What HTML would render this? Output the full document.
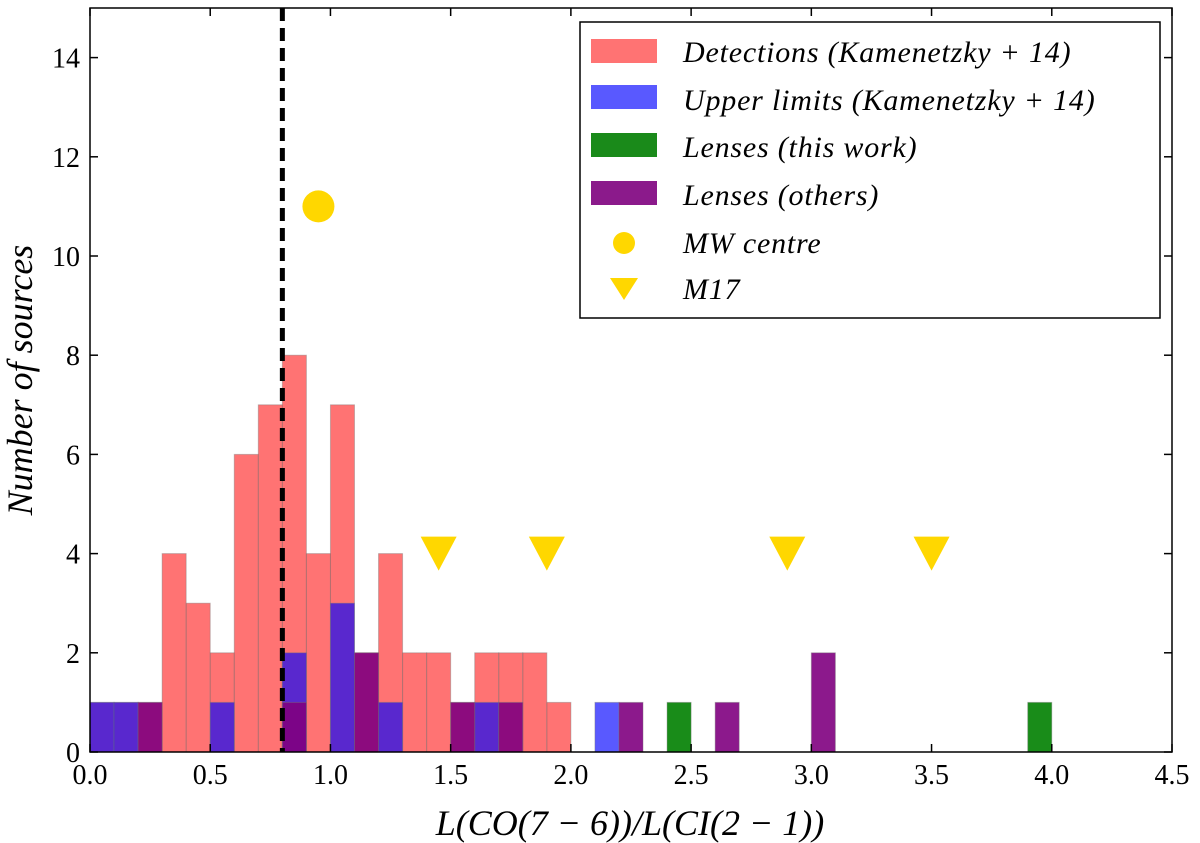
<!DOCTYPE html>
<html><head><meta charset="utf-8"><style>
body{margin:0;background:#fff;}
svg{display:block;font-family:"Liberation Serif",serif;}
</style></head><body>
<svg id="chart" width="1200" height="843">
<g id="plot"></g>
<text x="630" y="835" text-anchor="middle" font-size="36" font-style="italic">L(CO(7 − 6))/L(CI(2 − 1))</text>
<text transform="translate(32,380) rotate(-90)" text-anchor="middle" font-size="36" font-style="italic">Number of sources</text>
<g font-size="30" font-style="italic" letter-spacing="0.8">
<rect x="580" y="22" width="580" height="296" fill="#fff" stroke="#000" stroke-width="1.5"/>
<rect x="591" y="39" width="66" height="24" fill="#ff7373"/>
<text x="683" y="62">Detections (Kamenetzky + 14)</text>
<rect x="591" y="85" width="66" height="24" fill="#5959ff"/>
<text x="683" y="110">Upper limits (Kamenetzky + 14)</text>
<rect x="591" y="133" width="66" height="24" fill="#1a8a1a"/>
<text x="683" y="157">Lenses (this work)</text>
<rect x="591" y="181" width="66" height="24" fill="#8b1a8b"/>
<text x="683" y="205">Lenses (others)</text>
<circle cx="624" cy="243" r="11" fill="#ffd700"/>
<text x="683" y="253">MW centre</text>
<polygon points="610,278 638,278 624,300" fill="#ffd700"/>
<text x="683" y="299">M17</text>
</g>
</svg>
<script>
const binStarts = [0.0,0.1,0.2,0.3,0.4,0.5,0.6,0.7,0.8,0.9,1.0,1.1,1.2,1.3,1.4,1.5,1.6,1.7,1.8,1.9,2.0,2.1,2.2,2.3,2.4,2.5,2.6,2.7,2.8,2.9,3.0,3.1,3.2,3.3,3.4,3.5,3.6,3.7,3.8,3.9];
const detections = [1,1,1,4,3,2,6,7,8,4,7,2,4,2,2,1,2,2,2,1,0,0,0,0,0,0,0,0,0,0,0,0,0,0,0,0,0,0,0,0];
const upperLimits = [1,1,0,0,0,1,0,0,2,0,3,0,1,0,0,0,1,0,0,0,0,1,0,0,0,0,0,0,0,0,0,0,0,0,0,0,0,0,0,0];
const lensesThis = [0,0,0,0,0,0,0,0,0,0,0,0,0,0,0,0,0,0,0,0,0,0,0,0,1,0,0,0,0,0,0,0,0,0,0,0,0,0,0,1];
const lensesOthers = [0,0,1,0,0,0,0,0,1,0,0,2,0,0,0,1,0,1,0,0,0,0,1,0,0,0,1,0,0,0,2,0,0,0,0,0,0,0,0,0];
const binWidth = 0.1;
const mwX = [0.95], mwY = [11];
const m17X = [1.45,1.9,2.9,3.5], m17Y = [4,4,4,4];
const xTicks = [0,0.5,1,1.5,2,2.5,3,3.5,4,4.5];
const xTickLabels = ["0.0","0.5","1.0","1.5","2.0","2.5","3.0","3.5","4.0","4.5"];
const yTicks = [0,2,4,6,8,10,12,14];
const threshold = 0.8;

const L=90,R=1172,T=8,B=752,xMax=4.5,yMax=15;
const X=v=>L+(R-L)*v/xMax, Y=v=>B-(B-T)*v/yMax;
const NS="http://www.w3.org/2000/svg";
const g=document.getElementById('plot');
function mk(tag,attrs,parent){const e=document.createElementNS(NS,tag);for(const k in attrs)e.setAttribute(k,attrs[k]);(parent||g).appendChild(e);return e;}

function drawSeries(arr,color,op,name){
  arr.forEach((v,i)=>{ if(!v) return;
    const r=mk('rect',{x:X(binStarts[i]),y:Y(v),width:X(binStarts[i]+binWidth)-X(binStarts[i]),height:Y(0)-Y(v),fill:color,'fill-opacity':op,stroke:'#777','stroke-opacity':0.4,'stroke-width':1});
    
    
  });
}
drawSeries(detections,'#ff0000',0.55,'detections');
drawSeries(upperLimits,'#0000ff',0.65,'upper-limits');
drawSeries(lensesThis,'#008000',0.9,'lenses-this-work');
drawSeries(lensesOthers,'#800080',0.9,'lenses-others');

const dl=mk('line',{x1:X(threshold),x2:X(threshold),y1:T,y2:B,stroke:'#000','stroke-width':5,'stroke-dasharray':'13,7'});



mwX.forEach((x,i)=>{const c=mk('circle',{cx:X(x),cy:Y(mwY[i]),r:16,fill:'#ffd700'});

});
m17X.forEach((x,i)=>{const cx=X(x),cy=Y(m17Y[i]);
const p=mk('polygon',{points:`${cx-18},${cy-17} ${cx+18},${cy-17} ${cx},${cy+17}`,fill:'#ffd700'});

});

const fr=mk('rect',{x:L,y:T,width:R-L,height:B-T,fill:'none',stroke:'#000','stroke-width':1.5});


xTicks.forEach((t,i)=>{const x=X(t);
mk('line',{x1:x,x2:x,y1:B,y2:B-8,stroke:'#000','stroke-width':1.5});mk('line',{x1:x,x2:x,y1:T,y2:T+8,stroke:'#000','stroke-width':1.5});
const tx=mk('text',{x:x,y:B+32,'text-anchor':'middle','font-size':28});tx.textContent=xTickLabels[i];

});
yTicks.forEach(t=>{const y=Y(t);
mk('line',{x1:L,x2:L+8,y1:y,y2:y,stroke:'#000','stroke-width':1.5});mk('line',{x1:R,x2:R-8,y1:y,y2:y,stroke:'#000','stroke-width':1.5});
const tx=mk('text',{x:L-10,y:y+10,'text-anchor':'end','font-size':28});tx.textContent=t;

});
</script>
</body></html>
